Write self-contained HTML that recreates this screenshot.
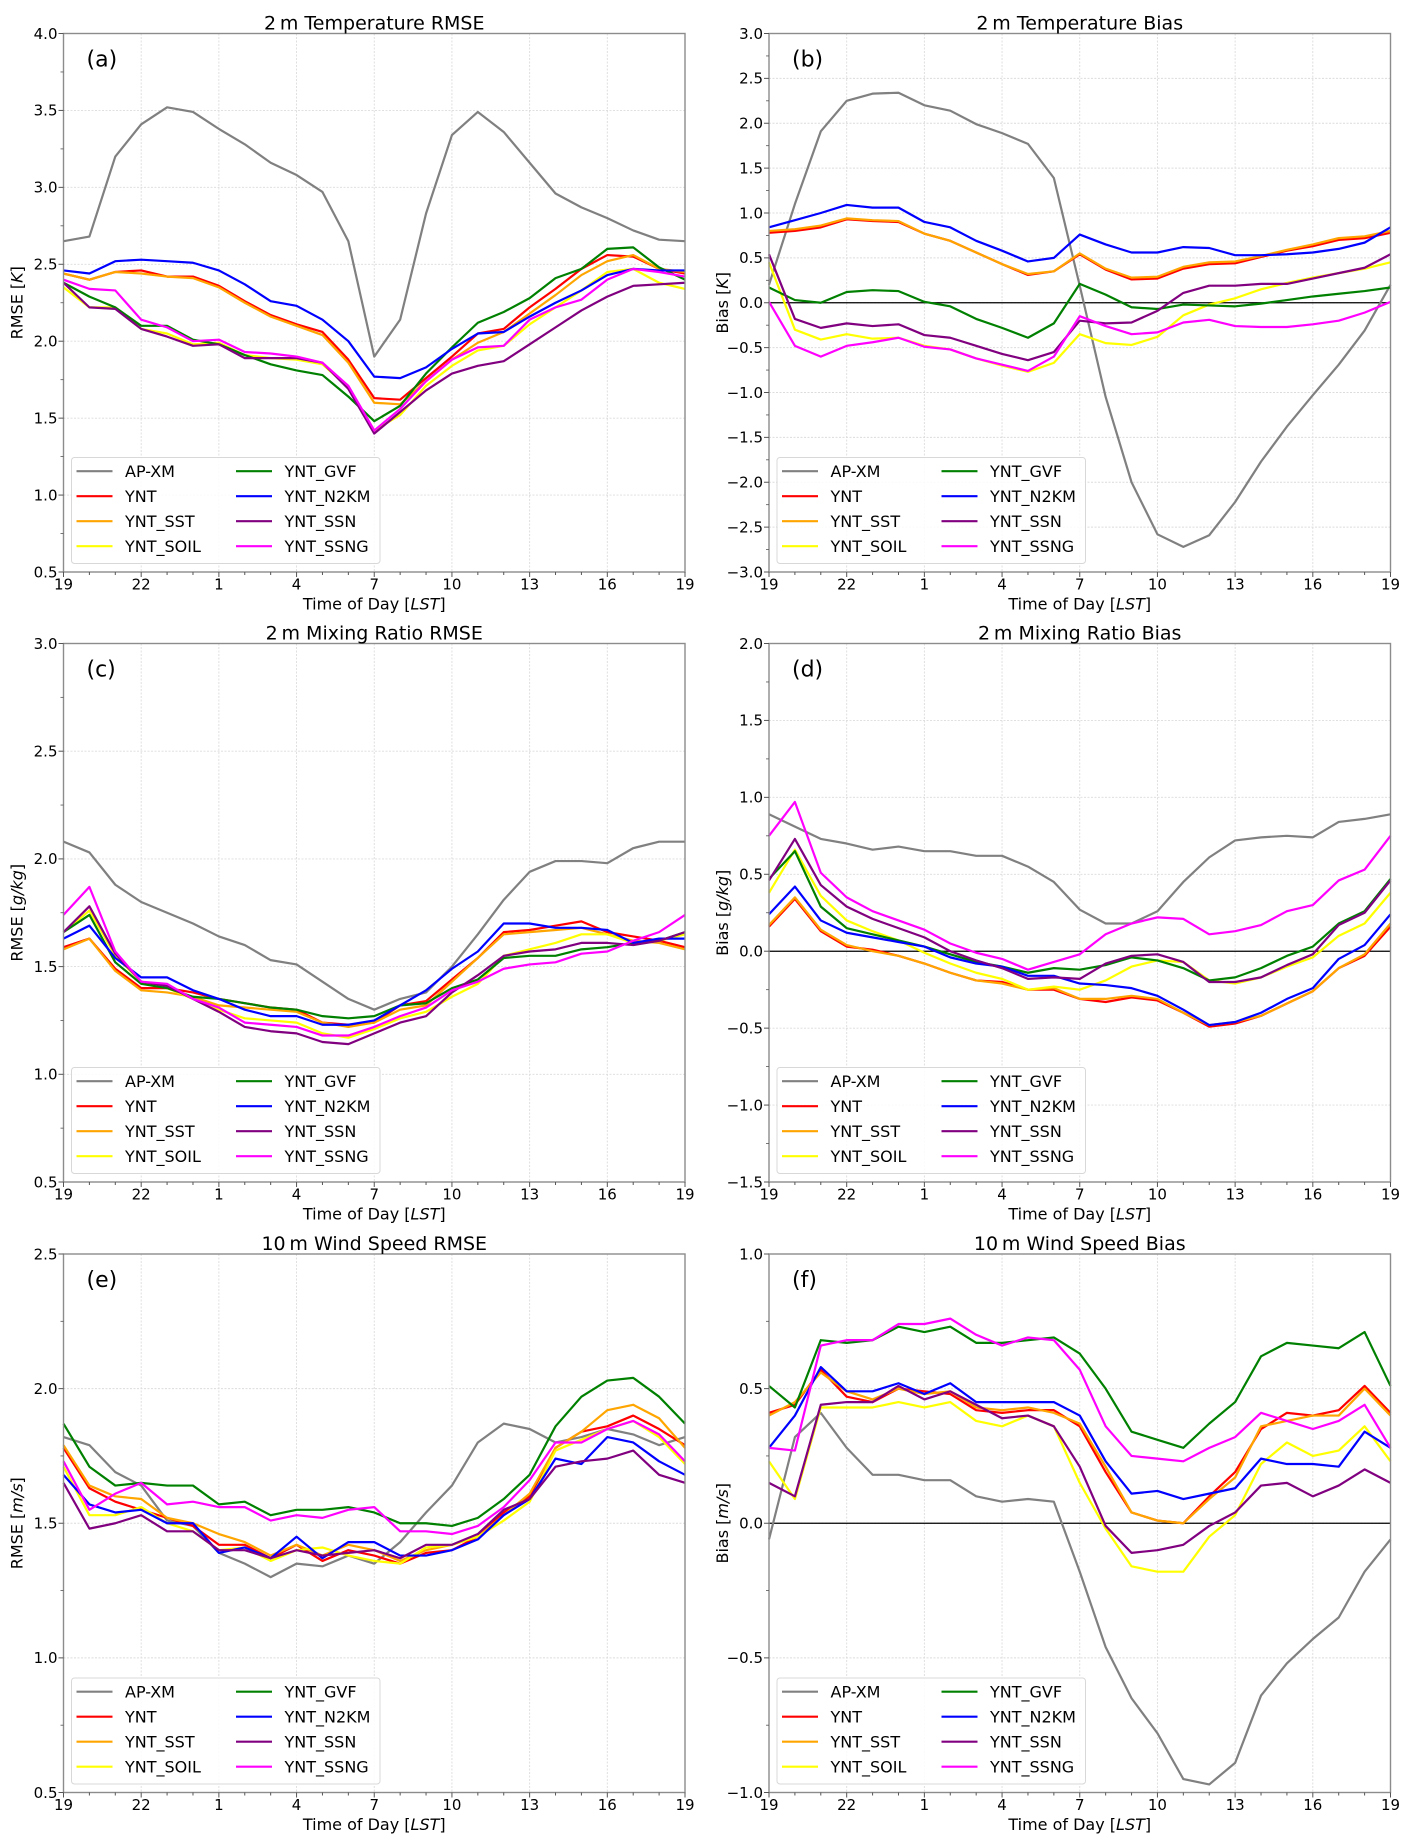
<!DOCTYPE html>
<html><head><meta charset="utf-8">
<style>
html,body{margin:0;padding:0;background:#fff;}
svg{display:block;font-family:"DejaVu Sans","Liberation Sans",sans-serif;}
</style></head>
<body>
<svg id="fig" width="1412" height="1847" viewBox="0 0 1412 1847" xmlns="http://www.w3.org/2000/svg"></svg>
<script>
// ---- shared data ----
const hourLabels = ["19","22","1","4","7","10","13","16","19"];
const seriesNames = ["AP-XM","YNT","YNT_SST","YNT_SOIL","YNT_GVF","YNT_N2KM","YNT_SSN","YNT_SSNG"];
const seriesColors = ["#808080","#ff0000","#ffa500","#ffff00","#008000","#0000ff","#800080","#ff00ff"];

// (a) 2 m Temperature RMSE
const a_APXM = [2.65,2.68,3.2,3.41,3.52,3.49,3.38,3.28,3.16,3.08,2.97,2.65,1.9,2.14,2.83,3.34,3.49,3.36,3.16,2.96,2.87,2.80,2.72,2.66,2.65];
const a_YNT  = [2.44,2.40,2.45,2.46,2.42,2.42,2.36,2.26,2.17,2.11,2.06,1.88,1.63,1.62,1.76,1.90,2.05,2.08,2.22,2.34,2.47,2.56,2.55,2.47,2.44];
const a_SST  = [2.44,2.40,2.45,2.44,2.42,2.41,2.35,2.25,2.16,2.10,2.04,1.86,1.60,1.59,1.74,1.88,1.99,2.06,2.18,2.30,2.43,2.52,2.56,2.47,2.45];
const a_SOIL = [2.35,2.22,2.22,2.08,2.05,1.98,1.99,1.91,1.89,1.88,1.85,1.70,1.42,1.52,1.71,1.84,1.94,1.97,2.11,2.22,2.33,2.45,2.47,2.38,2.34];
const a_GVF  = [2.38,2.29,2.22,2.10,2.10,2.01,1.98,1.91,1.85,1.81,1.78,1.64,1.48,1.58,1.79,1.96,2.12,2.19,2.28,2.41,2.47,2.60,2.61,2.48,2.40];
const a_N2KM = [2.46,2.44,2.52,2.53,2.52,2.51,2.46,2.37,2.26,2.23,2.14,2.00,1.77,1.76,1.83,1.95,2.05,2.06,2.16,2.25,2.33,2.43,2.47,2.46,2.46];
const a_SSN  = [2.38,2.22,2.21,2.08,2.03,1.97,1.98,1.89,1.89,1.89,1.86,1.69,1.40,1.54,1.68,1.79,1.84,1.87,1.98,2.09,2.20,2.29,2.36,2.37,2.38];
const a_SSNG = [2.40,2.34,2.33,2.14,2.09,2.00,2.01,1.93,1.92,1.90,1.86,1.71,1.42,1.56,1.74,1.88,1.96,1.97,2.14,2.22,2.27,2.40,2.47,2.45,2.42];
const a_ticks = [0.5,1.0,1.5,2.0,2.5,3.0,3.5,4.0];

// (b) 2 m Temperature Bias
const b_APXM = [0.2,1.1,1.91,2.25,2.33,2.34,2.20,2.14,1.99,1.89,1.77,1.39,0.19,-1.05,-2.0,-2.58,-2.72,-2.59,-2.22,-1.77,-1.38,-1.03,-0.69,-0.31,0.2];
const b_YNT  = [0.78,0.80,0.84,0.93,0.91,0.90,0.77,0.69,0.56,0.43,0.31,0.35,0.54,0.37,0.26,0.27,0.38,0.43,0.44,0.51,0.58,0.63,0.70,0.72,0.78];
const b_SST  = [0.80,0.82,0.86,0.94,0.92,0.91,0.77,0.69,0.56,0.43,0.32,0.35,0.55,0.38,0.28,0.29,0.40,0.45,0.46,0.52,0.59,0.65,0.72,0.74,0.80];
const b_SOIL = [0.45,-0.30,-0.41,-0.35,-0.40,-0.39,-0.48,-0.52,-0.62,-0.70,-0.77,-0.67,-0.35,-0.45,-0.47,-0.38,-0.14,-0.02,0.05,0.15,0.22,0.28,0.33,0.38,0.45];
const b_GVF  = [0.17,0.03,0.0,0.12,0.14,0.13,0.01,-0.04,-0.18,-0.28,-0.39,-0.23,0.21,0.09,-0.05,-0.07,-0.02,-0.03,-0.04,-0.01,0.03,0.07,0.10,0.13,0.17];
const b_N2KM = [0.84,0.92,1.00,1.09,1.06,1.06,0.90,0.84,0.69,0.58,0.46,0.50,0.76,0.65,0.56,0.56,0.62,0.61,0.53,0.53,0.54,0.56,0.60,0.67,0.84];
const b_SSN  = [0.54,-0.18,-0.28,-0.23,-0.26,-0.24,-0.36,-0.39,-0.48,-0.57,-0.64,-0.55,-0.20,-0.23,-0.22,-0.09,0.11,0.19,0.19,0.21,0.21,0.27,0.33,0.39,0.54];
const b_SSNG = [0.01,-0.48,-0.60,-0.48,-0.44,-0.39,-0.49,-0.52,-0.62,-0.69,-0.76,-0.60,-0.15,-0.26,-0.35,-0.33,-0.22,-0.19,-0.26,-0.27,-0.27,-0.24,-0.20,-0.11,0.01];
const b_ticks = [-3.0,-2.5,-2.0,-1.5,-1.0,-0.5,0.0,0.5,1.0,1.5,2.0,2.5,3.0];

// (c) 2 m Mixing Ratio RMSE
const c_APXM = [2.08,2.03,1.88,1.80,1.75,1.70,1.64,1.60,1.53,1.51,1.43,1.35,1.30,1.35,1.38,1.50,1.65,1.81,1.94,1.99,1.99,1.98,2.05,2.08,2.08];
const c_YNT  = [1.59,1.63,1.49,1.40,1.40,1.38,1.35,1.33,1.31,1.30,1.24,1.23,1.24,1.32,1.34,1.44,1.54,1.66,1.67,1.69,1.71,1.66,1.64,1.62,1.59];
const c_SST  = [1.58,1.63,1.48,1.39,1.38,1.36,1.32,1.31,1.30,1.29,1.24,1.22,1.24,1.30,1.32,1.43,1.54,1.65,1.66,1.67,1.68,1.65,1.62,1.61,1.58];
const c_SOIL = [1.66,1.76,1.55,1.43,1.40,1.35,1.30,1.26,1.25,1.24,1.19,1.17,1.21,1.26,1.29,1.36,1.42,1.55,1.58,1.61,1.65,1.65,1.61,1.62,1.65];
const c_GVF  = [1.66,1.74,1.52,1.42,1.40,1.36,1.35,1.33,1.31,1.30,1.27,1.26,1.27,1.32,1.33,1.40,1.44,1.54,1.55,1.55,1.58,1.59,1.61,1.62,1.66];
const c_N2KM = [1.63,1.69,1.54,1.45,1.45,1.39,1.35,1.30,1.27,1.27,1.23,1.23,1.25,1.32,1.39,1.49,1.57,1.70,1.70,1.68,1.68,1.67,1.61,1.63,1.63];
const c_SSN  = [1.66,1.78,1.56,1.43,1.41,1.35,1.29,1.22,1.20,1.19,1.15,1.14,1.19,1.24,1.27,1.38,1.46,1.55,1.57,1.58,1.61,1.61,1.60,1.62,1.66];
const c_SSNG = [1.74,1.87,1.57,1.43,1.42,1.35,1.31,1.24,1.23,1.22,1.18,1.18,1.22,1.27,1.31,1.39,1.43,1.49,1.51,1.52,1.56,1.57,1.62,1.66,1.74];
const c_ticks = [0.5,1.0,1.5,2.0,2.5,3.0];

// (d) 2 m Mixing Ratio Bias
const d_APXM = [0.89,0.81,0.73,0.70,0.66,0.68,0.65,0.65,0.62,0.62,0.55,0.45,0.27,0.18,0.18,0.26,0.45,0.61,0.72,0.74,0.75,0.74,0.84,0.86,0.89];
const d_YNT  = [0.16,0.34,0.13,0.03,0.01,-0.03,-0.08,-0.14,-0.19,-0.20,-0.25,-0.25,-0.31,-0.33,-0.30,-0.32,-0.40,-0.49,-0.47,-0.42,-0.34,-0.26,-0.11,-0.03,0.16];
const d_SST  = [0.17,0.35,0.14,0.04,0.0,-0.03,-0.08,-0.14,-0.19,-0.21,-0.25,-0.24,-0.31,-0.31,-0.29,-0.31,-0.40,-0.48,-0.46,-0.42,-0.34,-0.26,-0.11,-0.02,0.18];
const d_SOIL = [0.38,0.66,0.36,0.20,0.13,0.07,-0.01,-0.08,-0.14,-0.18,-0.25,-0.23,-0.25,-0.19,-0.10,-0.06,-0.07,-0.19,-0.21,-0.17,-0.10,-0.04,0.10,0.18,0.38];
const d_GVF  = [0.47,0.65,0.29,0.15,0.11,0.07,0.03,-0.02,-0.07,-0.10,-0.14,-0.11,-0.12,-0.09,-0.04,-0.06,-0.11,-0.19,-0.17,-0.11,-0.03,0.03,0.18,0.26,0.47];
const d_N2KM = [0.24,0.42,0.20,0.12,0.09,0.06,0.03,-0.04,-0.08,-0.10,-0.16,-0.16,-0.21,-0.22,-0.24,-0.29,-0.38,-0.48,-0.46,-0.40,-0.31,-0.24,-0.05,0.04,0.24];
const d_SSN  = [0.46,0.73,0.43,0.29,0.21,0.15,0.09,0.0,-0.06,-0.11,-0.18,-0.17,-0.18,-0.08,-0.03,-0.02,-0.07,-0.20,-0.20,-0.17,-0.09,-0.02,0.17,0.25,0.46];
const d_SSNG = [0.75,0.97,0.51,0.35,0.26,0.20,0.14,0.05,-0.01,-0.05,-0.12,-0.07,-0.02,0.11,0.18,0.22,0.21,0.11,0.13,0.17,0.26,0.30,0.46,0.53,0.75];
const d_ticks = [-1.5,-1.0,-0.5,0.0,0.5,1.0,1.5,2.0];

// (e) 10 m Wind Speed RMSE
const e_APXM = [1.82,1.79,1.69,1.64,1.51,1.49,1.39,1.35,1.30,1.35,1.34,1.38,1.35,1.43,1.54,1.64,1.80,1.87,1.85,1.80,1.82,1.85,1.83,1.79,1.82];
const e_YNT  = [1.78,1.63,1.58,1.55,1.52,1.49,1.42,1.42,1.37,1.42,1.36,1.40,1.38,1.35,1.39,1.40,1.45,1.54,1.60,1.78,1.84,1.86,1.90,1.85,1.79];
const e_SST  = [1.79,1.64,1.60,1.59,1.52,1.50,1.46,1.43,1.38,1.42,1.38,1.42,1.40,1.36,1.40,1.42,1.45,1.53,1.61,1.78,1.84,1.92,1.94,1.89,1.78];
const e_SOIL = [1.71,1.53,1.53,1.56,1.50,1.47,1.40,1.41,1.36,1.40,1.41,1.38,1.36,1.35,1.41,1.42,1.45,1.51,1.58,1.77,1.81,1.85,1.88,1.82,1.72];
const e_GVF  = [1.87,1.71,1.64,1.65,1.64,1.64,1.57,1.58,1.53,1.55,1.55,1.56,1.54,1.50,1.50,1.49,1.52,1.59,1.68,1.86,1.97,2.03,2.04,1.97,1.87];
const e_N2KM = [1.68,1.57,1.54,1.55,1.50,1.50,1.39,1.41,1.37,1.45,1.37,1.43,1.43,1.38,1.38,1.40,1.44,1.53,1.59,1.74,1.72,1.82,1.80,1.73,1.68];
const e_SSN  = [1.65,1.48,1.50,1.53,1.47,1.47,1.40,1.40,1.37,1.40,1.38,1.39,1.40,1.37,1.42,1.42,1.46,1.55,1.59,1.71,1.73,1.74,1.77,1.68,1.65];
const e_SSNG = [1.73,1.55,1.61,1.65,1.57,1.58,1.56,1.56,1.51,1.53,1.52,1.55,1.56,1.47,1.47,1.46,1.49,1.56,1.66,1.80,1.80,1.85,1.88,1.83,1.73];
const e_ticks = [0.5,1.0,1.5,2.0,2.5];

// (f) 10 m Wind Speed Bias
const f_APXM = [-0.06,0.32,0.41,0.28,0.18,0.18,0.16,0.16,0.10,0.08,0.09,0.08,-0.18,-0.46,-0.65,-0.78,-0.95,-0.97,-0.89,-0.64,-0.52,-0.43,-0.35,-0.18,-0.06];
const f_YNT  = [0.41,0.44,0.57,0.47,0.45,0.50,0.49,0.48,0.42,0.41,0.42,0.42,0.36,0.19,0.04,0.01,0.0,0.10,0.19,0.35,0.41,0.40,0.42,0.51,0.41];
const f_SST  = [0.40,0.45,0.56,0.49,0.46,0.50,0.48,0.49,0.43,0.42,0.43,0.41,0.37,0.21,0.04,0.01,0.0,0.09,0.17,0.36,0.38,0.40,0.40,0.50,0.40];
const f_SOIL = [0.23,0.09,0.43,0.43,0.43,0.45,0.43,0.45,0.38,0.36,0.40,0.36,0.15,-0.02,-0.16,-0.18,-0.18,-0.05,0.03,0.22,0.30,0.25,0.27,0.36,0.23];
const f_GVF  = [0.51,0.43,0.68,0.67,0.68,0.73,0.71,0.73,0.67,0.67,0.68,0.69,0.63,0.50,0.34,0.31,0.28,0.37,0.45,0.62,0.67,0.66,0.65,0.71,0.51];
const f_N2KM = [0.28,0.40,0.58,0.49,0.49,0.52,0.48,0.52,0.45,0.45,0.45,0.45,0.40,0.23,0.11,0.12,0.09,0.11,0.13,0.24,0.22,0.22,0.21,0.34,0.28];
const f_SSN  = [0.15,0.10,0.44,0.45,0.45,0.51,0.46,0.49,0.44,0.39,0.40,0.36,0.21,-0.01,-0.11,-0.10,-0.08,-0.01,0.04,0.14,0.15,0.10,0.14,0.20,0.15];
const f_SSNG = [0.28,0.27,0.66,0.68,0.68,0.74,0.74,0.76,0.70,0.66,0.69,0.68,0.57,0.36,0.25,0.24,0.23,0.28,0.32,0.41,0.38,0.35,0.38,0.44,0.28];
const f_ticks = [-1.0,-0.5,0.0,0.5,1.0];

const NS = "http://www.w3.org/2000/svg";
const svg = document.getElementById('fig');
function mk(tag, attrs, parent){
  const e = document.createElementNS(NS, tag);
  for (const k in attrs) e.setAttribute(k, attrs[k]);
  (parent||svg).appendChild(e);
  return e;
}
function fmt(v){ const s = Math.abs(v).toFixed(1); return (v < -1e-9 ? "\u2212" : "") + s; }

const panels = [
  {id:"a", title:"2\u2009m Temperature RMSE", ylab:"RMSE", unit:"K", left:63.5, top:33.5, ticks:a_ticks, zero:false,
   data:[a_APXM,a_YNT,a_SST,a_SOIL,a_GVF,a_N2KM,a_SSN,a_SSNG]},
  {id:"b", title:"2\u2009m Temperature Bias", ylab:"Bias", unit:"K", left:769, top:33.5, ticks:b_ticks, zero:true,
   data:[b_APXM,b_YNT,b_SST,b_SOIL,b_GVF,b_N2KM,b_SSN,b_SSNG]},
  {id:"c", title:"2\u2009m Mixing Ratio RMSE", ylab:"RMSE", unit:"g/kg", left:63.5, top:643.5, ticks:c_ticks, zero:false,
   data:[c_APXM,c_YNT,c_SST,c_SOIL,c_GVF,c_N2KM,c_SSN,c_SSNG]},
  {id:"d", title:"2\u2009m Mixing Ratio Bias", ylab:"Bias", unit:"g/kg", left:769, top:643.5, ticks:d_ticks, zero:true,
   data:[d_APXM,d_YNT,d_SST,d_SOIL,d_GVF,d_N2KM,d_SSN,d_SSNG]},
  {id:"e", title:"10\u2009m Wind Speed RMSE", ylab:"RMSE", unit:"m/s", left:63.5, top:1254, ticks:e_ticks, zero:false,
   data:[e_APXM,e_YNT,e_SST,e_SOIL,e_GVF,e_N2KM,e_SSN,e_SSNG]},
  {id:"f", title:"10\u2009m Wind Speed Bias", ylab:"Bias", unit:"m/s", left:769, top:1254, ticks:f_ticks, zero:true,
   data:[f_APXM,f_YNT,f_SST,f_SOIL,f_GVF,f_N2KM,f_SSN,f_SSNG]}
];
const W = 621.5, H = 538.5, NPTS = 25;

panels.forEach(p => {
  const g = mk('g', {});
  
  
  const ymin = p.ticks[0], ymax = p.ticks[p.ticks.length-1];
  const xs = i => p.left + W * i / (NPTS-1);
  const ys = v => p.top + H * (ymax - v) / (ymax - ymin);
  const bottom = p.top + H;

  // grid
  for (let k = 0; k < hourLabels.length; k++) {
    const x = xs(k*3);
    const gl = mk('line', {x1:x, x2:x, y1:p.top, y2:bottom, stroke:'#dcdcdc', 'stroke-width':0.9, 'stroke-dasharray':'2,1.5'}, g);
    
    
  }
  p.ticks.forEach(t => {
    const y = ys(t);
    const gl = mk('line', {x1:p.left, x2:p.left+W, y1:y, y2:y, stroke:'#dcdcdc', 'stroke-width':0.9, 'stroke-dasharray':'2,1.5'}, g);
    
    
  });
  if (p.zero) {
    const zl = mk('line', {x1:p.left, x2:p.left+W, y1:ys(0), y2:ys(0), stroke:'#000', 'stroke-width':1.3}, g);
    
    
  }

  // series
  p.data.forEach((arr, si) => {
    const pts = arr.map((v,i) => xs(i).toFixed(2) + ',' + ys(v).toFixed(2)).join(' ');
    const pl = mk('polyline', {points:pts, fill:'none', stroke:seriesColors[si], 'stroke-width':2.2, 'stroke-linejoin':'round'}, g);
    
    
  });

  // frame
  const fr = mk('rect', {x:p.left, y:p.top, width:W, height:H, fill:'none', stroke:'#8c8c8c', 'stroke-width':1.4}, g);
  
  

  // x ticks
  for (let i = 0; i < NPTS; i++) {
    const major = i % 3 === 0;
    mk('line', {x1:xs(i), x2:xs(i), y1:bottom, y2:bottom + (major?5:3), stroke:'#555', 'stroke-width':1}, g);
  }
  hourLabels.forEach((lab, k) => {
    const t = mk('text', {x:xs(k*3), y:bottom+17.5, 'font-size':15, 'text-anchor':'middle', fill:'#000'}, g);
    t.textContent = lab;
    
    
  });
  // y ticks
  p.ticks.forEach((tv, k) => {
    const y = ys(tv);
    mk('line', {x1:p.left-5, x2:p.left, y1:y, y2:y, stroke:'#555', 'stroke-width':1}, g);
    if (k < p.ticks.length-1) {
      const ym = ys(tv + (p.ticks[1]-p.ticks[0])/2);
      mk('line', {x1:p.left-3, x2:p.left, y1:ym, y2:ym, stroke:'#555', 'stroke-width':0.8}, g);
    }
    const t = mk('text', {x:p.left-6, y:y+5.3, 'font-size':15, 'text-anchor':'end', fill:'#000'}, g);
    t.textContent = fmt(tv);
    
    
  });

  // title
  const ti = mk('text', {x:p.left + W/2, y:p.top - 4, 'font-size':19, 'text-anchor':'middle', fill:'#000'}, g);
  ti.textContent = p.title;
  
  

  // panel letter
  const pl2 = mk('text', {x:p.left + 23, y:p.top + 33, 'font-size':22, fill:'#000'}, g);
  pl2.textContent = '(' + p.id + ')';
  
  

  // x label
  const xl = mk('text', {x:p.left + W/2, y:bottom + 37.5, 'font-size':16, 'text-anchor':'middle', fill:'#000'}, g);
  xl.innerHTML = 'Time of Day [<tspan font-style="italic">LST</tspan>]';
  
  

  // y label
  const cy = p.top + H/2, lx = p.left - 41;
  const yl = mk('text', {x:lx, y:cy, 'font-size':16, 'text-anchor':'middle', fill:'#000', transform:'rotate(-90 '+lx+' '+cy+')'}, g);
  yl.innerHTML = p.ylab + ' [<tspan font-style="italic">' + p.unit + '</tspan>]';
  
  

  // legend
  const lg = mk('g', {}, g);
  
  
  const lx0 = p.left + 8, ly1 = bottom - 8.5, lh = 106, lw = 308.5;
  mk('rect', {x:lx0, y:ly1-lh, width:lw, height:lh, rx:3, fill:'#fff', 'fill-opacity':0.85, stroke:'#d8d8d8', 'stroke-width':1}, lg);
  seriesNames.forEach((nm, si) => {
    const col = Math.floor(si/4), row = si % 4;
    const hx = lx0 + 5 + col*159.5;
    const ry = ly1 - lh + 13.7 + row*25;
    const le = mk('g', {}, lg);
    
    
    mk('line', {x1:hx, x2:hx+36, y1:ry, y2:ry, stroke:seriesColors[si], 'stroke-width':2.2}, le);
    const tt = mk('text', {x:hx+48.5, y:ry+6, 'font-size':16, fill:'#000'}, le);
    tt.textContent = nm;
  });
});
</script>
</body></html>
